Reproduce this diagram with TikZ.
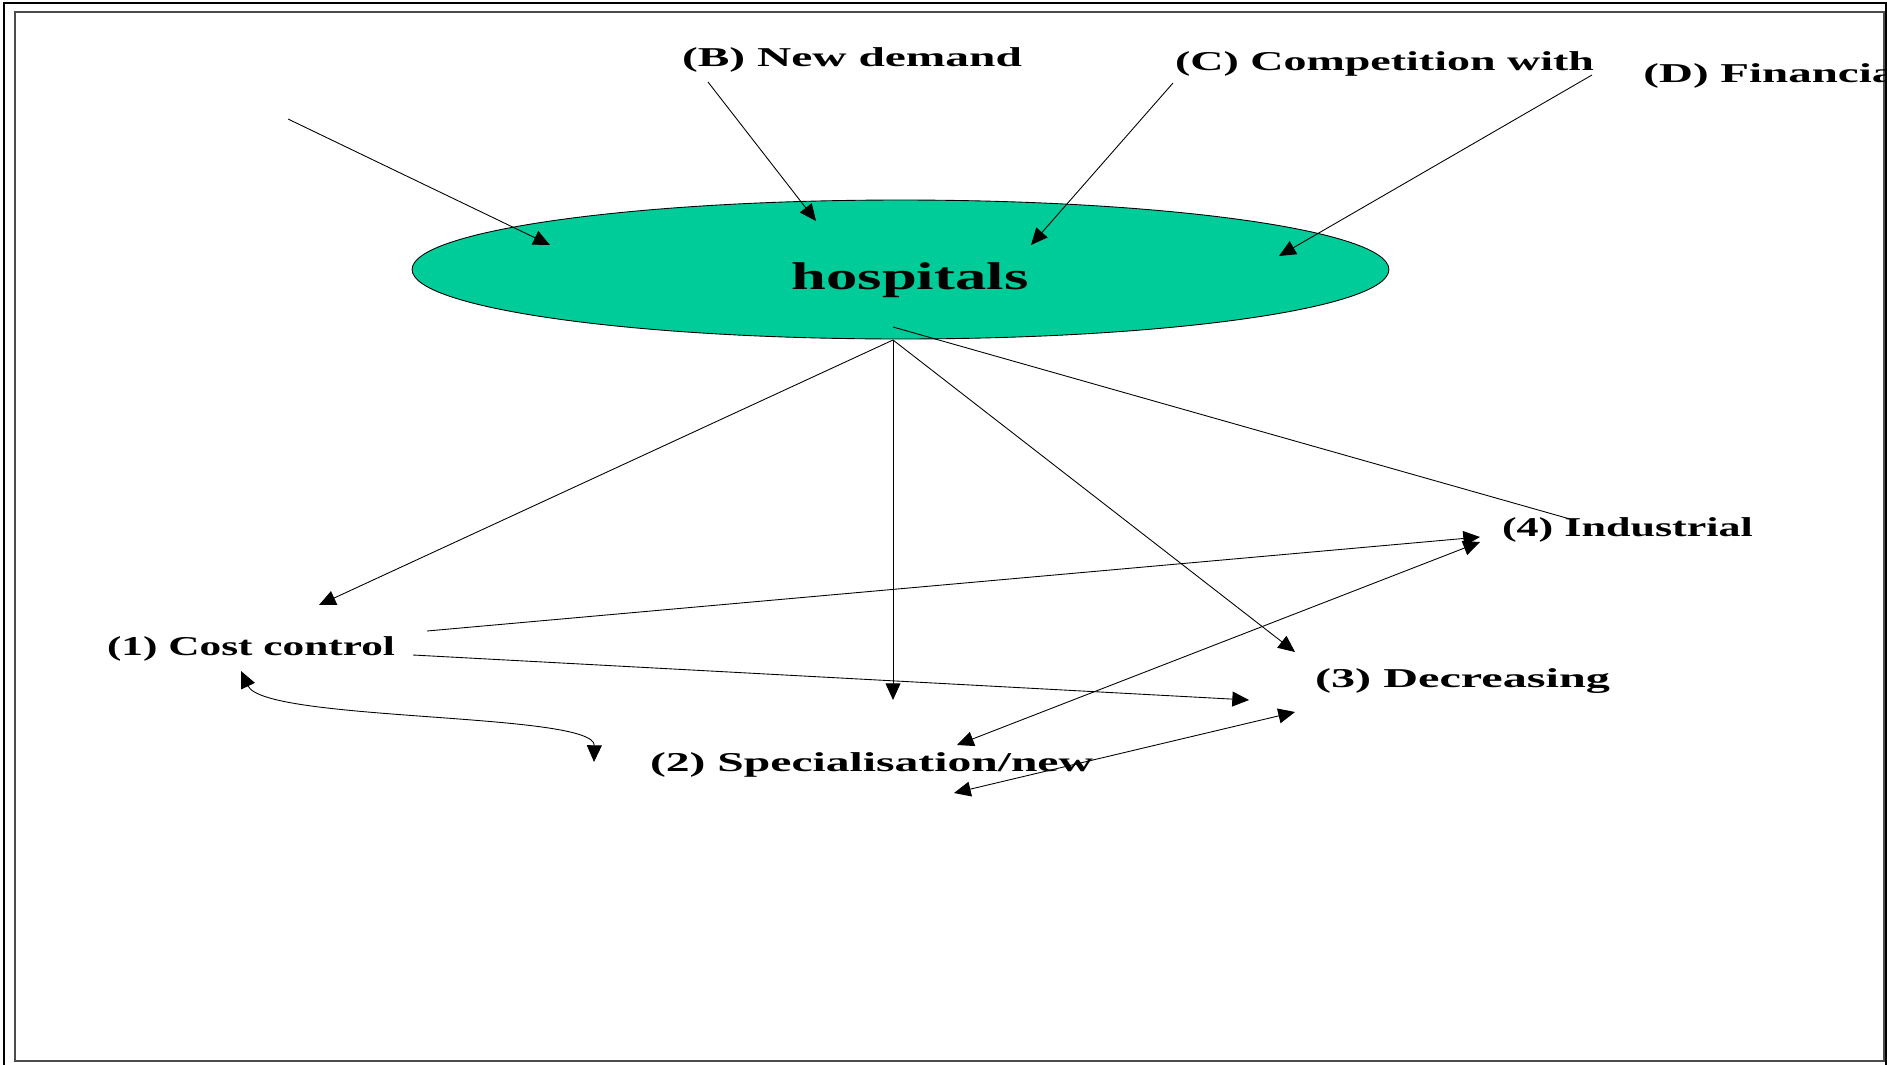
\documentclass[tikz,border=0pt]{standalone}
\usepackage{fontspec}
\setmainfont{Liberation Serif}
\usetikzlibrary{shapes.geometric,arrows.meta}
\definecolor{hospgreen}{RGB}{0,204,153}
\newcommand{\wide}[2]{\resizebox{#1}{\height}{#2}}

\begin{document}
\begin{tikzpicture}[x=0.02cm,y=-0.02cm,line width=0.5pt,>={Triangle[length=9.5pt,width=8.5pt]},
	lab/.style={inner sep=0pt,font=\fontsize{15.5}{17}\selectfont\bfseries},
	frame/.style={line width=1.2pt,black!70}]
		\fill[white] (0,0) rectangle (1887,1065);
		\useasboundingbox (0,0) rectangle (1887,1065);
		\draw[line width=1.6pt] (4,1080) -- (4,3) -- (1886,3) -- (1886,1080);
		\draw[frame] (15,12) rectangle (1884,1061);
		% centre ellipse
		\node[ellipse,draw,fill=hospgreen,minimum width=19.54cm,minimum height=2.78cm,inner sep=0pt] (hosp) at (900.5,269.5) {};
		\node[lab,font=\fontsize{22}{24}\selectfont\bfseries] (hosplabel) at (910,280) {\wide{4.74cm}{hospitals}};
		% outside factors
		\node[lab] (facB) at (852,59.5) {\wide{6.8cm}{(B) New demand}};
		\node[lab] (facC) at (1384.5,64) {\wide{8.38cm}{(C) Competition with}};
		\node[lab,anchor=west] (facD) at (1643,76) {\wide{5.3cm}{(D) Financial}};
		% responses
		\node[lab] (resp1) at (251,648.5) {\wide{5.76cm}{(1) Cost control}};
		\node[lab] (resp2) at (871.5,765) {\wide{8.86cm}{(2) Specialisation/new}};
		\node[lab] (resp3) at (1462.5,681) {\wide{5.9cm}{(3) Decreasing}};
		\node[lab] (resp4) at (1627.5,530) {\wide{5.02cm}{(4) Industrial}};
		% arrow ends
		\coordinate (srcA) at (288,119);
		\coordinate (tipA) at (550,245);
		\coordinate (srcB) at (708,82);
		\coordinate (tipB) at (816,221);
		\coordinate (srcC) at (1173,83);
		\coordinate (tipC) at (1031,245);
		\coordinate (srcD) at (1592,75);
		\coordinate (tipD) at (1279,256);
		\coordinate (hb) at (893,340);
		\coordinate (hin) at (893,327);
		\coordinate (in1) at (319,605);
		\coordinate (in2) at (893,700);
		\coordinate (in3) at (1295,652);
		\coordinate (top4) at (1570,519);
		\coordinate (out1a) at (427,631);
		\coordinate (out1b) at (413,655);
		\coordinate (in4a) at (1480,537);
		\coordinate (in3a) at (1249,700);
		\coordinate (in4b) at (1480,542);
		\coordinate (in2a) at (957,745);
		\coordinate (in3b) at (1295,712);
		\coordinate (in2b) at (954,793);
		\coordinate (in1c) at (241,671);
		\coordinate (in2c) at (594,762);
		% connectors
		\draw[->] (srcA) -- (tipA);
		\draw[->] (srcB) -- (tipB);
		\draw[->] (srcC) -- (tipC);
		\draw[->] (srcD) -- (tipD);
		\draw[->] (hb) -- (in1);
		\draw[->] (hb) -- (in2);
		\draw[->] (hb) -- (in3);
		\draw (hin) -- (top4);
		\draw[->] (out1a) -- (in4a);
		\draw[->] (out1b) -- (in3a);
		\draw[<->] (in4b) -- (in2a);
		\draw[<->] (in3b) -- (in2b);
		\draw[<->] (in1c) .. controls (265,722) and (595,712) .. (in2c);
\end{tikzpicture}
\end{document}
